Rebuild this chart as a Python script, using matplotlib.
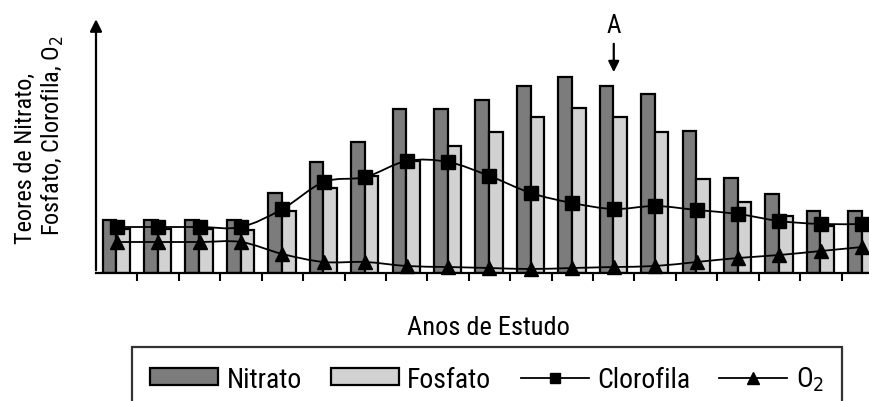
import matplotlib
matplotlib.use("Agg")
import matplotlib.pyplot as plt
from matplotlib import font_manager as fm
from matplotlib.patches import Patch, PathPatch
from matplotlib.lines import Line2D
from matplotlib.path import Path
import numpy as np

# fonte condensada se existir
nomes = {f.name for f in fm.fontManager.ttflist}
condensadas = [n for n in ["Roboto Condensed", "Liberation Sans Narrow", "Open Sans Condensed",
                           "DejaVu Sans Condensed"] if n in nomes]
plt.rcParams['font.family'] = condensadas + ['Liberation Sans', 'DejaVu Sans']
plt.rcParams['font.stretch'] = 'condensed'

# valores (unidades arbitrárias, sem escala no eixo)
anos = list(range(1, 20))
nitrato = [53, 53, 53, 53, 80, 111, 131, 164, 164, 173, 187, 196, 187, 179, 142, 95, 79, 62, 62]
fosfato = [44, 44, 44, 43, 62, 85, 97, 112, 127, 141, 156, 165, 156, 141, 94, 71, 57, 47, 50]
clorofila = [46, 46, 46, 46, 64, 91, 96, 112, 111, 97, 80, 70, 64, 67, 63, 59, 52, 49, 49]
oxigenio = [31, 31, 31, 31, 19, 11, 11, 7, 6, 5, 4, 5, 6, 7, 11, 15, 18, 22, 26]
legenda = ["Nitrato", "Fosfato", "Clorofila", "O$_2$"]
ano_marcado = 13


def curva_suave(x, y, t=1/6):
    # linha suavizada tipo Excel (bezier cubica)
    pts = np.column_stack([x, y]).astype(float)
    verts = [pts[0]]
    codes = [Path.MOVETO]
    for i in range(len(pts) - 1):
        p0 = pts[i - 1] if i > 0 else pts[i]
        p1, p2 = pts[i], pts[i + 1]
        p3 = pts[i + 2] if i + 2 < len(pts) else pts[i + 1]
        c1 = p1 + (p2 - p0) * t
        c2 = p2 - (p3 - p1) * t
        verts += [c1, c2, p2]
        codes += [Path.CURVE4] * 3
    return Path(verts, codes)


fs = 19 if condensadas else 17
fs_leg = 20 if condensadas else 17
fs_y = 17.5 if condensadas else 15

fig = plt.figure(figsize=(8.7, 4.02), dpi=100)
ax = fig.add_axes([96/870, 1 - 274/402, (883 - 96)/870, 254/402])

x = np.arange(len(anos))
w = 0.33
ax.bar(x - 0.01, nitrato, width=-w, align="edge", color="#7c7c7c", edgecolor="k", linewidth=1.6, zorder=2)
ax.bar(x - 0.01, fosfato, width=w, align="edge", color="#d2d2d2", edgecolor="k", linewidth=1.6, zorder=2)

for serie, mk in [(clorofila, "s"), (oxigenio, "^")]:
    ax.add_patch(PathPatch(curva_suave(x, serie), facecolor="none", edgecolor="k", linewidth=1.3, zorder=3))
    ax.plot(x, serie, linestyle="none", marker=mk, markersize=10, color="k", zorder=4, clip_on=False)

ax.set_xlim(-0.5, len(anos) - 0.5)
ax.set_ylim(0, 254)
ax.set_xticks(x[:-1] + 0.5)
ax.set_xticklabels([])
ax.set_yticks([])
ax.tick_params(axis="x", direction="out", length=6, width=1.5, color="k")
for s in ["top", "right", "left"]:
    ax.spines[s].set_visible(False)
ax.spines["bottom"].set_linewidth(1.6)

# eixo y com seta
ax.annotate("", xy=(0, 1.01), xytext=(0, 0), xycoords="axes fraction",
            arrowprops=dict(arrowstyle="-|>", color="k", lw=1.6, mutation_scale=18), annotation_clip=False)

# marcador A
i = ano_marcado - 1
ax.annotate("", xy=(i, nitrato[i] + 11), xytext=(i, nitrato[i] + 45),
            arrowprops=dict(arrowstyle="-|>", color="k", lw=1.6, mutation_scale=16))
ax.text(i, nitrato[i] + 49, "A", ha="center", va="bottom", fontsize=18)

fig.text(488/870, 1 - 328/402, "Anos de Estudo", ha="center", va="center", fontsize=fs)
fig.text(25/870, 1 - 158/402, "Teores de Nitrato,", rotation=90, ha="center", va="center", fontsize=fs_y)
fig.text(53/870, 1 - 136/402, "Fosfato, Clorofila, O$_2$", rotation=90, ha="center", va="center", fontsize=fs_y)

handles = [Patch(facecolor="#7c7c7c", edgecolor="k", linewidth=1.6),
           Patch(facecolor="#d2d2d2", edgecolor="k", linewidth=1.6),
           Line2D([], [], color="k", marker="s", markersize=7, lw=1.3),
           Line2D([], [], color="k", marker="^", markersize=8, lw=1.3)]
leg = fig.legend(handles, legenda, loc="center", bbox_to_anchor=(487/870, 1 - 380/402), ncol=4,
                 fontsize=fs_leg, frameon=True, fancybox=False, edgecolor="k", borderpad=0.65,
                 handlelength=2.45, handleheight=0.55, handletextpad=0.3, columnspacing=1.05,
                 borderaxespad=0)
leg.get_frame().set_linewidth(1.6)

fig.savefig("out.png", dpi=100)
